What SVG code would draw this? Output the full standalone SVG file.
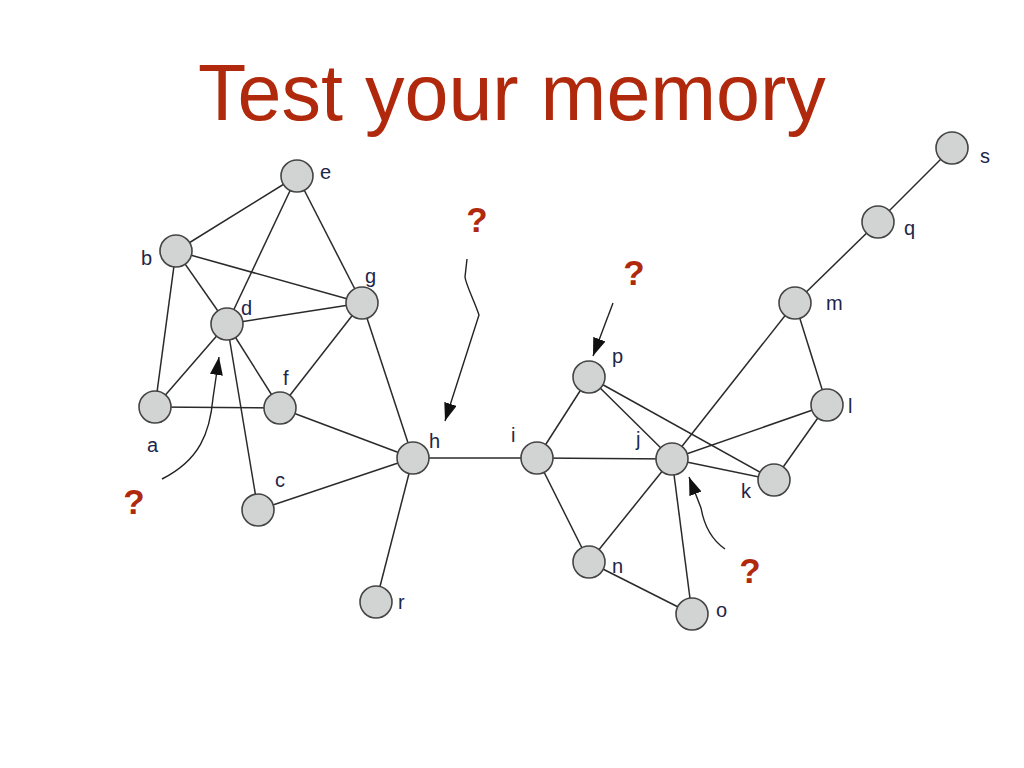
<svg xmlns="http://www.w3.org/2000/svg" width="1024" height="768" viewBox="0 0 1024 768">
  <defs>
    <marker id="head" markerUnits="userSpaceOnUse" markerWidth="20" markerHeight="14" refX="18" refY="6.5" orient="auto">
      <path d="M0,0 L18,6.5 L0,13 z" fill="#111"/>
    </marker>
    <style>
      .title { font-family: "Liberation Sans", Arial, sans-serif; font-size: 79px; fill: #b0290c; }
      .q { font-family: "Liberation Sans", Arial, sans-serif; font-size: 35px; font-weight: bold; fill: #b0290c; text-anchor: middle; }
      .edge { stroke: #2a2a2a; stroke-width: 1.5; fill: none; }
      .ptr { stroke: #222; stroke-width: 1.4; fill: none; marker-end: url(#head); }
      .node circle { fill: #d2d3d3; stroke: #444; stroke-width: 1.6; }
      .node text { font-family: "Liberation Sans", Arial, sans-serif; font-size: 20px; fill: #1e2648; }
    </style>
  </defs>
  <rect width="1024" height="768" fill="#fff"/>

  <text class="title" x="512" y="120" text-anchor="middle">Test your memory</text>

  <!-- graph edges -->
  <g id="edges">
    <line class="edge" x1="297" y1="176" x2="176" y2="251"/>
    <line class="edge" x1="297" y1="176" x2="227" y2="324"/>
    <line class="edge" x1="297" y1="176" x2="362" y2="303"/>
    <line class="edge" x1="176" y1="251" x2="362" y2="303"/>
    <line class="edge" x1="176" y1="251" x2="227" y2="324"/>
    <line class="edge" x1="176" y1="251" x2="155" y2="407"/>
    <line class="edge" x1="227" y1="324" x2="362" y2="303"/>
    <line class="edge" x1="227" y1="324" x2="155" y2="407"/>
    <line class="edge" x1="227" y1="324" x2="258" y2="510"/>
    <line class="edge" x1="227" y1="324" x2="280" y2="408"/>
    <line class="edge" x1="362" y1="303" x2="280" y2="408"/>
    <line class="edge" x1="362" y1="303" x2="413" y2="458"/>
    <line class="edge" x1="155" y1="407" x2="280" y2="408"/>
    <line class="edge" x1="280" y1="408" x2="413" y2="458"/>
    <line class="edge" x1="258" y1="510" x2="413" y2="458"/>
    <line class="edge" x1="413" y1="458" x2="376" y2="602"/>
    <line class="edge" x1="413" y1="458" x2="537" y2="458"/>
    <line class="edge" x1="537" y1="458" x2="589" y2="377"/>
    <line class="edge" x1="537" y1="458" x2="672" y2="459"/>
    <line class="edge" x1="537" y1="458" x2="589" y2="562"/>
    <line class="edge" x1="589" y1="377" x2="672" y2="459"/>
    <line class="edge" x1="589" y1="377" x2="774" y2="480"/>
    <line class="edge" x1="672" y1="459" x2="795" y2="303"/>
    <line class="edge" x1="672" y1="459" x2="827" y2="405"/>
    <line class="edge" x1="672" y1="459" x2="774" y2="480"/>
    <line class="edge" x1="672" y1="459" x2="589" y2="562"/>
    <line class="edge" x1="672" y1="459" x2="692" y2="614"/>
    <line class="edge" x1="589" y1="562" x2="692" y2="614"/>
    <line class="edge" x1="795" y1="303" x2="827" y2="405"/>
    <line class="edge" x1="827" y1="405" x2="774" y2="480"/>
    <line class="edge" x1="795" y1="303" x2="878" y2="222"/>
    <line class="edge" x1="878" y1="222" x2="952" y2="148"/>
  </g>

  <!-- pointers from the question marks -->
  <g id="pointers">
    <path class="ptr" d="M467,259 L465,277 C466,285 474,300 479,315 L445,421"/>
    <path class="ptr" d="M613,303 L593,356"/>
    <path class="ptr" d="M162,479 C200,460 210,432 213,398 L219,357"/>
    <path class="ptr" d="M725,549 Q706,536 701,508 L689,477"/>
  </g>

  <text class="q" x="477" y="232">?</text>
  <text class="q" x="634" y="285">?</text>
  <text class="q" x="134" y="514">?</text>
  <text class="q" x="750" y="583">?</text>

  <!-- nodes -->
  <g id="node-a" class="node"><circle cx="155" cy="407" r="16"/><text x="147" y="452">a</text></g>
  <g id="node-b" class="node"><circle cx="176" cy="251" r="16"/><text x="141" y="265">b</text></g>
  <g id="node-c" class="node"><circle cx="258" cy="510" r="16"/><text x="275" y="487">c</text></g>
  <g id="node-d" class="node"><circle cx="227" cy="324" r="16"/><text x="241" y="315">d</text></g>
  <g id="node-e" class="node"><circle cx="297" cy="176" r="16"/><text x="320" y="179">e</text></g>
  <g id="node-f" class="node"><circle cx="280" cy="408" r="16"/><text x="283" y="385">f</text></g>
  <g id="node-g" class="node"><circle cx="362" cy="303" r="16"/><text x="365" y="283">g</text></g>
  <g id="node-h" class="node"><circle cx="413" cy="458" r="16"/><text x="429" y="448">h</text></g>
  <g id="node-i" class="node"><circle cx="537" cy="458" r="16"/><text x="511" y="442">i</text></g>
  <g id="node-j" class="node"><circle cx="672" cy="459" r="16"/><text x="636" y="446">j</text></g>
  <g id="node-k" class="node"><circle cx="774" cy="480" r="16"/><text x="741" y="498">k</text></g>
  <g id="node-l" class="node"><circle cx="827" cy="405" r="16"/><text x="848" y="413">l</text></g>
  <g id="node-m" class="node"><circle cx="795" cy="303" r="16"/><text x="826" y="310">m</text></g>
  <g id="node-n" class="node"><circle cx="589" cy="562" r="16"/><text x="612" y="573">n</text></g>
  <g id="node-o" class="node"><circle cx="692" cy="614" r="16"/><text x="716" y="617">o</text></g>
  <g id="node-p" class="node"><circle cx="589" cy="377" r="16"/><text x="612" y="363">p</text></g>
  <g id="node-q" class="node"><circle cx="878" cy="222" r="16"/><text x="904" y="235">q</text></g>
  <g id="node-r" class="node"><circle cx="376" cy="602" r="16"/><text x="398" y="609">r</text></g>
  <g id="node-s" class="node"><circle cx="952" cy="148" r="16"/><text x="980" y="163">s</text></g>
</svg>
